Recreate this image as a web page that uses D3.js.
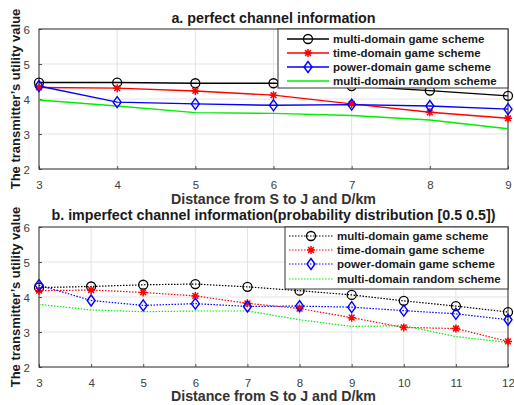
<!DOCTYPE html>
<html><head><meta charset="utf-8">
<script src="https://cdn.jsdelivr.net/npm/d3@7"></script>
<style>body{margin:0;background:#fff}svg{display:block}</style>
</head><body>
<script>
// ---- data ----
const seriesNames = ["multi-domain game scheme","time-domain game scheme","power-domain game scheme","multi-domain random scheme"];
const seriesColors = ["#000000","#ff0000","#0000ff","#00ee00"];
const seriesMarkers = ["circle","star","diamond","none"];

const distA = [3,4,5,6,7,8,9];
const multiGameA = [4.47,4.47,4.45,4.45,4.37,4.24,4.09];
const timeGameA  = [4.33,4.31,4.23,4.11,3.86,3.62,3.45];
const powerGameA = [4.37,3.91,3.86,3.82,3.84,3.80,3.71];
const multiRandA = [3.97,3.80,3.61,3.59,3.53,3.40,3.15];

const distB = [3,4,5,6,7,8,9,10,11,12];
const multiGameB = [4.27,4.30,4.35,4.37,4.29,4.18,4.06,3.89,3.74,3.57];
const timeGameB  = [4.18,4.20,4.13,4.03,3.82,3.67,3.41,3.13,3.10,2.73];
const powerGameB = [4.34,3.90,3.76,3.81,3.73,3.74,3.71,3.61,3.52,3.35];
const multiRandB = [3.79,3.63,3.58,3.60,3.60,3.35,3.16,3.18,2.87,2.70];

const yTicks = [2,3,4,5,6];
const titleA = "a. perfect channel information";
const titleB = "b. imperfect channel information(probability distribution [0.5 0.5])";
const xLabel = "Distance from S to J and D/km";
const yLabel = "The transmitter\u2019s utility value";

// ---- drawing ----
const W = 514, H = 405;
const svg = d3.select("body").append("svg").attr("width",W).attr("height",H)
  .style("font-family","'Liberation Sans', Arial, sans-serif");

function starPath(s){
  const r=s;
  return `M${-r},0L${r},0M0,${-r}L0,${r}M${-r*0.72},${-r*0.72}L${r*0.72},${r*0.72}M${-r*0.72},${r*0.72}L${r*0.72},${-r*0.72}`;
}

function drawMarker(g,type,cx,cy,color){
  if(type==="circle"){
    g.append("circle").attr("cx",cx).attr("cy",cy).attr("r",4.5).attr("fill","none").attr("stroke",color).attr("stroke-width",1.3);
  } else if(type==="star"){
    g.append("path").attr("d",starPath(4)).attr("transform",`translate(${cx},${cy})`).attr("stroke",color).attr("stroke-width",1.5).attr("fill","none");
  } else if(type==="diamond"){
    g.append("path").attr("d","M0,-5.5L4,0L0,5.5L-4,0Z").attr("transform",`translate(${cx},${cy})`).attr("fill","none").attr("stroke",color).attr("stroke-width",1.4);
  }
}

function panel(cfg){
  const {top,bottom,left,right,xs,data,dotted,title,titleY,xLabelY,yLabelY,legend} = cfg;
  const x = d3.scaleLinear().domain([xs[0],xs[xs.length-1]]).range([left,right]);
  const y = d3.scaleLinear().domain([2,6]).range([bottom,top]);
  const g = svg.append("g");
  // grid
  g.append("g").selectAll("line").data(xs).join("line")
    .attr("x1",d=>x(d)).attr("x2",d=>x(d)).attr("y1",top).attr("y2",bottom)
    .attr("stroke","#e3e3e3").attr("stroke-width",1);
  g.append("g").selectAll("line").data(yTicks).join("line")
    .attr("x1",left).attr("x2",right).attr("y1",d=>y(d)).attr("y2",d=>y(d))
    .attr("stroke","#e3e3e3").attr("stroke-width",1);
  // axes (MATLAB-style inward ticks)
  const xa = g.append("g").attr("transform",`translate(0,${bottom})`)
    .call(d3.axisBottom(x).tickValues(xs).tickFormat(d3.format("d")).tickSize(-3).tickPadding(12));
  const ya = g.append("g").attr("transform",`translate(${left},0)`)
    .call(d3.axisLeft(y).tickValues(yTicks).tickFormat(d3.format("d")).tickSize(-3).tickPadding(9));
  [xa,ya].forEach(a=>{
    a.select(".domain").remove();
    a.selectAll("line").attr("stroke","#555");
    a.selectAll("text").attr("font-size",11.5).attr("fill","#404040").style("font-family","'Liberation Sans', Arial, sans-serif");
  });
  ya.selectAll("text").attr("dy","0.42em");
  // box
  g.append("rect").attr("x",left).attr("y",top).attr("width",right-left).attr("height",bottom-top)
    .attr("fill","none").attr("stroke","#333").attr("stroke-width",1);
  // lines
  const line = d3.line().x((d,i)=>x(xs[i])).y(d=>y(d));
  data.forEach((vals,k)=>{
    g.append("path").attr("d",line(vals)).attr("fill","none")
      .attr("stroke",seriesColors[k]).attr("stroke-width",dotted?1.2:1.4)
      .attr("stroke-dasharray",dotted?"1.5,1.5":null);
  });
  data.forEach((vals,k)=>{
    vals.forEach((v,i)=>drawMarker(g,seriesMarkers[k],x(xs[i]),y(v),seriesColors[k]));
  });
  // titles
  svg.append("text").attr("x",(left+right)/2).attr("y",titleY).attr("text-anchor","middle")
    .attr("font-weight","bold").attr("font-size",14.3).attr("fill","#1a1a1a").text(title);
  svg.append("text").attr("x",(left+right)/2).attr("y",xLabelY).attr("text-anchor","middle")
    .attr("font-weight","bold").attr("font-size",14.2).attr("fill","#333").text(xLabel);
  svg.append("text").attr("transform",`translate(20,${yLabelY}) rotate(-90)`).attr("text-anchor","middle")
    .attr("font-weight","bold").attr("font-size",13).attr("fill","#1a1a1a").text(yLabel);
  // legend
  const L = legend;
  const lg = svg.append("g");
  lg.append("rect").attr("x",L.x0).attr("y",L.y0).attr("width",L.x1-L.x0).attr("height",L.y1-L.y0)
    .attr("fill","#fff").attr("stroke","#333").attr("stroke-width",1);
  seriesNames.forEach((name,k)=>{
    const yy = L.rows[k];
    lg.append("line").attr("x1",L.lx0).attr("x2",L.lx1).attr("y1",yy).attr("y2",yy)
      .attr("stroke",seriesColors[k]).attr("stroke-width",dotted?1.2:1.4)
      .attr("stroke-dasharray",dotted?"1.5,1.5":null);
    drawMarker(lg,seriesMarkers[k],(L.lx0+L.lx1)/2,yy,seriesColors[k]);
    lg.append("text").attr("x",L.tx).attr("y",yy).attr("dy","0.35em")
      .attr("font-weight","bold").attr("font-size",11.5).attr("fill","#1a1a1a").text(name);
  });
}

panel({top:29,bottom:169,left:39,right:508,xs:distA,
  data:[multiGameA,timeGameA,powerGameA,multiRandA],dotted:false,
  title:titleA,titleY:23,xLabelY:204,yLabelY:99,
  legend:{x0:278,y0:29,x1:508,y1:88,lx0:287,lx1:329,tx:333,rows:[39,53,67,81]}});

panel({top:227,bottom:367,left:39,right:508,xs:distB,
  data:[multiGameB,timeGameB,powerGameB,multiRandB],dotted:true,
  title:titleB,titleY:220,xLabelY:401,yLabelY:297,
  legend:{x0:285,y0:227,x1:508,y1:289,lx0:289,lx1:333,tx:337,rows:[236,250,264,279]}});
</script>
</body></html>
